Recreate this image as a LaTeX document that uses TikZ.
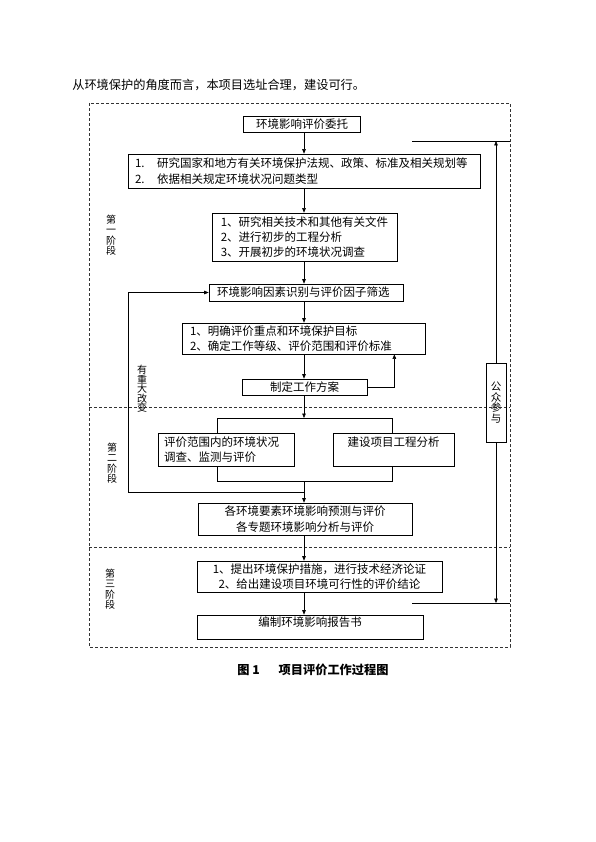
\documentclass[tikz,border=0pt]{standalone}
\usepackage{fontspec}
\newfontfamily\cjk{Noto Sans CJK SC}
\usetikzlibrary{arrows.meta}
\tikzset{
  box/.style={draw, line width=0.7pt, inner ysep=0pt, font=\cjk\fontsize{11.5}{15}\selectfont},
  arr/.style={-{Triangle[length=4.5pt,width=3.6pt]}},
  frame/.style={dash pattern=on 3pt off 2pt, line width=0.5pt, black!80},
  stage/.style={font=\cjk\fontsize{10}{10.5}\selectfont, align=center, inner sep=0pt},
}

\begin{document}
\begin{tikzpicture}[x=1pt,y=-1pt,line width=0.6pt]
\useasboundingbox (0,0) rectangle (595,842);
\node[anchor=west, inner sep=0pt, font=\cjk\fontsize{12.2}{14}\selectfont] (intro) at (72,85) {从环境保护的角度而言，本项目选址合理，建设可行。};

% dashed frame of the three stages
\draw[frame] (89,103) rectangle (510,647);
\draw[frame] (89,407) -- (510,407);
\draw[frame] (89,547) -- (510,547);

\node[stage] (s1) at (111,235) {第\\一\\阶\\段};
\node[stage] (s2) at (112,463) {第\\二\\阶\\段};
\node[stage] (s3) at (110,589) {第\\三\\阶\\段};
\node[stage, font=\cjk\fontsize{10}{9.6}\selectfont] (chg) at (142,389) {有\\重\\大\\改\\变};

\node[box, minimum width=117pt, minimum height=16pt] (n1) at (302,124) {环境影响评价委托};
\node[box, minimum height=34pt, text width=338pt, inner xsep=7pt, align=left, font=\cjk\fontsize{11.5}{16}\selectfont] (n2) at (304,171)
  {\makebox[22pt][l]{1.}研究国家和地方有关环境保护法规、政策、标准及相关规划等\\\makebox[22pt][l]{2.}依据相关规定环境状况问题类型};
\node[box, minimum width=185pt, minimum height=48pt, align=left] (n3) at (304.5,237)
  {1、研究相关技术和其他有关文件\\2、进行初步的工程分析\\3、开展初步的环境状况调查};
\node[box, minimum height=17pt, text width=178pt, inner xsep=8pt, align=left] (n4) at (306,292.5) {环境影响因素识别与评价因子筛选};
\node[box, minimum height=31pt, text width=227pt, inner xsep=8pt, align=left, font=\cjk\fontsize{11.5}{14.5}\selectfont] (n5) at (303.5,338.5)
  {1、明确评价重点和环境保护目标\\2、确定工作等级、评价范围和评价标准};
\node[box, minimum width=125pt, minimum height=16pt] (n6) at (304.5,387) {制定工作方案};
\node[box, minimum height=33pt, text width=124pt, inner xsep=6pt, align=left] (n7) at (226,449.5)
  {评价范围内的环境状况\\调查、监测与评价};
\node[box, minimum width=121pt, minimum height=33pt, text depth=16pt] (n8) at (393.5,449.5) {建设项目工程分析};
\node[box, minimum width=214pt, minimum height=32pt, align=center, font=\cjk\fontsize{11.5}{16}\selectfont] (n9) at (305,519)
  {各环境要素环境影响预测与评价\\各专题环境影响分析与评价};
\node[box, minimum width=245pt, minimum height=31pt, align=center] (n10) at (319.5,576.5)
  {1、提出环境保护措施，进行技术经济论证\\2、给出建设项目环境可行性的评价结论};
\node[box, minimum width=226pt, minimum height=24pt, text depth=11pt] (n11) at (310,627) {编制环境影响报告书};
\node[box, stage, font=\cjk\fontsize{10.5}{10.7}\selectfont, minimum width=20pt, minimum height=79pt] (pub) at (496,402.5) {公\\众\\参\\与};

\coordinate (ax) at (304,0);
\draw[arr] (n1.south -| ax) -- (n2.north -| ax);
\draw[arr] (n2.south -| ax) -- (n3.north -| ax);
\draw[arr] (n3.south -| ax) -- (n4.north -| ax);
\draw[arr] (n4.south -| ax) -- (n5.north -| ax);
\draw[arr] (n5.south -| ax) -- (n6.north -| ax);
\draw[arr] (n6.east) -| ([xshift=-31pt]n5.south east);

\coordinate (fl) at (217,418);
\coordinate (fr) at (392,418);
\draw[arr] (n6.south -| ax) -- (fl -| ax);
\draw (n7.north -| fl) -- (fl) -- (fr) -- (n8.north -| fr);
\coordinate (jl) at (217,481);
\coordinate (jr) at (392,481);
\draw (n7.south -| jl) -- (jl) -- (jr) -- (n8.south -| jr);
\draw[arr] (jl -| ax) -- (n9.north -| ax);
\coordinate (lp) at (128,492);
\draw[arr] (lp -| ax) -- (lp) |- (n4.west);
\draw[arr] (n9.south -| ax) -- (n10.north -| ax);
\draw[arr] (n10.south -| ax) -- (n11.north -| ax);

% public participation
\coordinate (tl) at (412,141);
\coordinate (tr) at (510,141);
\coordinate (bl) at (412,603);
\coordinate (br) at (510,603);
\draw (tl) -- (tr);
\draw (bl) -- (br);
\draw[arr] (pub.north) -- (pub.north |- tl);
\draw[arr] (pub.south) -- (pub.south |- bl);

\node[anchor=west, inner sep=0pt, font=\cjk\bfseries\fontsize{12.2}{14}\selectfont] (cap) at (237,670) {图 1\hspace{19pt}项目评价工作过程图};
\end{tikzpicture}
\end{document}
